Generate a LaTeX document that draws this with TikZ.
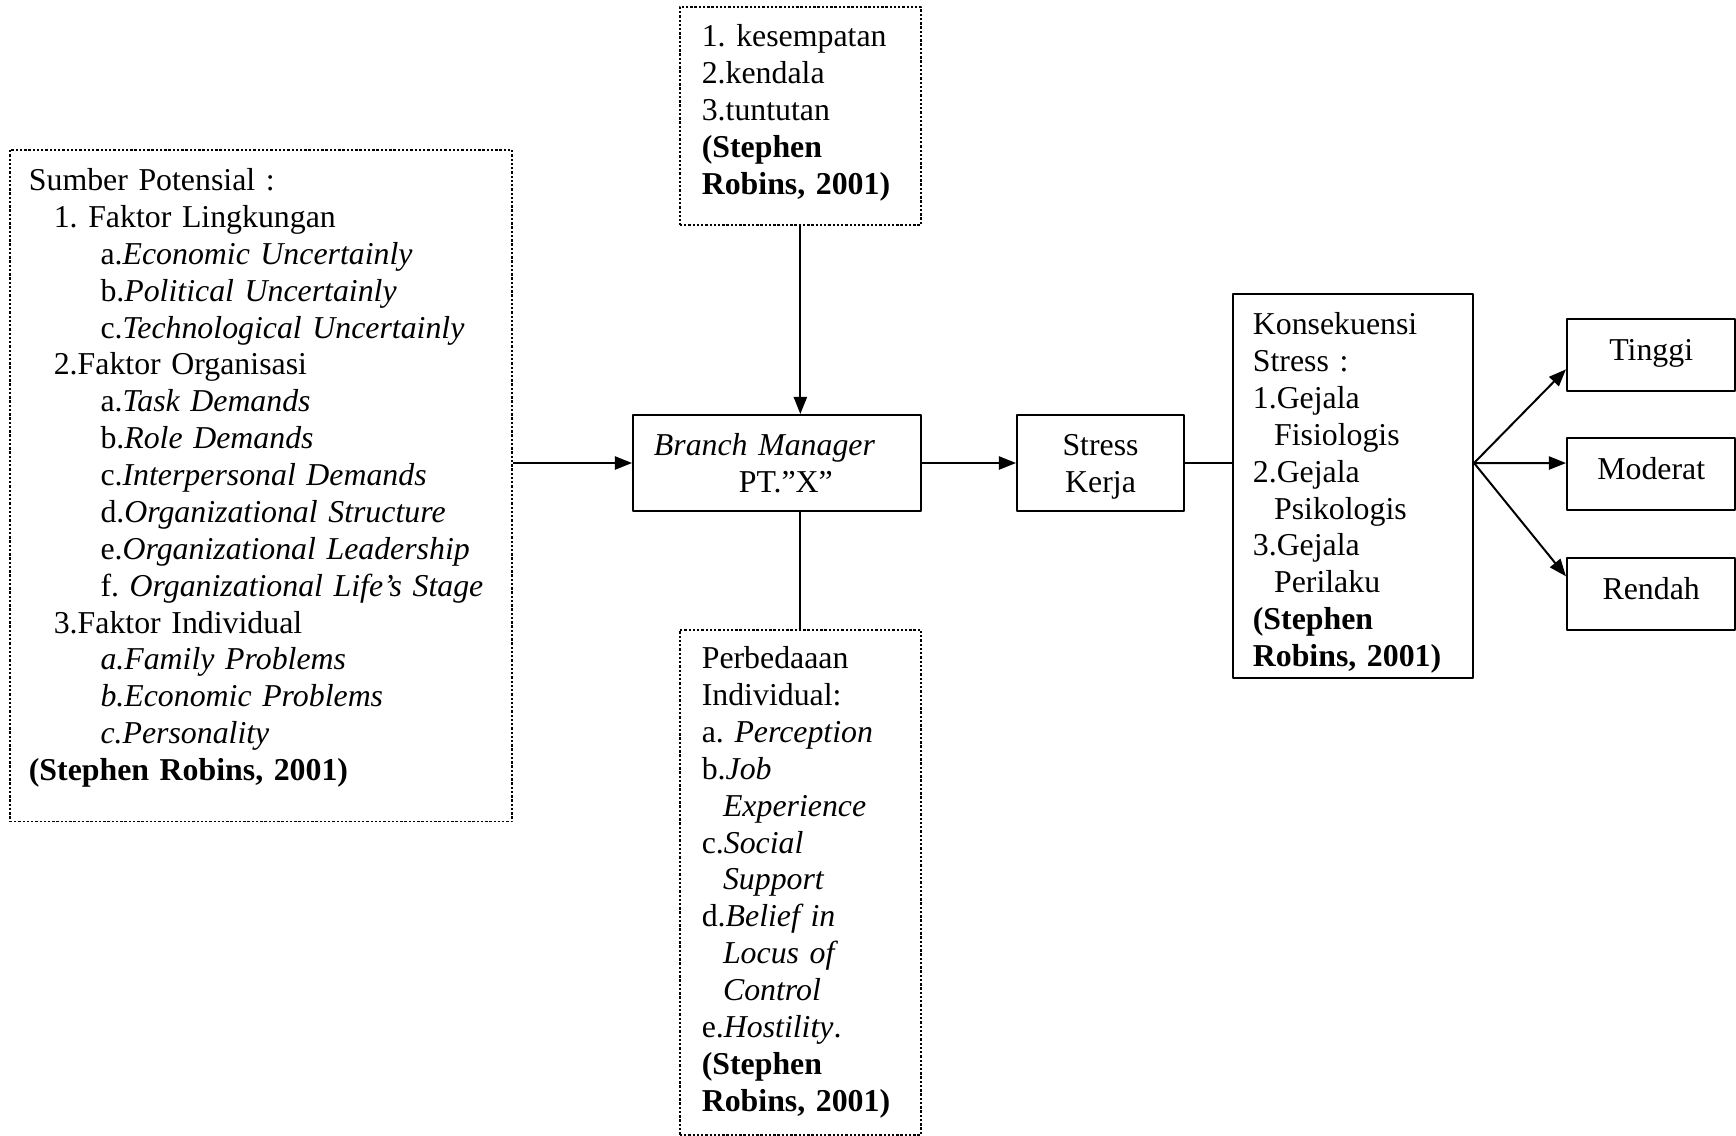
\documentclass[tikz,border=0pt]{standalone}
\usepackage{fontspec}
\setmainfont{Liberation Serif}
\usetikzlibrary{arrows.meta,calc}
\frenchspacing

\begin{document}
	\begin{tikzpicture}[x=0.377pt,y=-0.377pt,font=\fontsize{12}{13.9}\selectfont, line join=round, >={Triangle[length=6.5pt,width=5pt]},
		kotak/.style={draw,line width=0.75pt,anchor=north west,inner sep=0pt,align=left},
		titik/.style={kotak,line width=0.6pt,dash pattern=on 0.9pt off 0.7pt},
		hasil/.style={draw,line width=0.75pt,anchor=north west,inner sep=0pt,minimum width=63.5pt,minimum height=27.3pt,text height=8.5pt,text depth=4.7pt},
		panah/.style={->,line width=0.75pt},
		garis/.style={line width=0.75pt}]
		\useasboundingbox (0,0) rectangle (1736,1136);
		\node[titik,minimum width=189.3pt,minimum height=253.3pt,text width=174.9pt,text height=2.4pt] (potensi) at (9,149) {Sumber Potensial :\\
			\hspace*{9.4pt}1. Faktor Lingkungan\\
			\hspace*{27pt}a.\textit{Economic Uncertainly}\\
			\hspace*{27pt}b.\textit{Political Uncertainly}\\
			\hspace*{27pt}c.\textit{Technological Uncertainly}\\
			\hspace*{9.4pt}2.Faktor Organisasi\\
			\hspace*{27pt}a.\textit{Task Demands}\\
			\hspace*{27pt}b.\textit{Role Demands}\\
			\hspace*{27pt}c.\textit{Interpersonal Demands}\\
			\hspace*{27pt}d.\textit{Organizational Structure}\\
			\hspace*{27pt}e.\textit{Organizational Leadership}\\
			\hspace*{27pt}f. \textit{Organizational Life’s Stage}\\
			\hspace*{9.4pt}3.Faktor Individual\\
			\hspace*{27pt}\textit{a.Family Problems}\\
			\hspace*{27pt}\textit{b.Economic Problems}\\
			\hspace*{27pt}\textit{c.Personality}\\
			\textbf{(Stephen Robins, 2001)}};
		\node[titik,minimum width=90.9pt,minimum height=82.2pt,text width=74.3pt,text height=6.2pt] (peluang) at (679,6) {1. kesempatan\\2.kendala\\3.tuntutan\\\textbf{(Stephen}\\\textbf{Robins, 2001)}};
		\node[kotak,minimum width=108.6pt,minimum height=36.2pt,text width=92.8pt] (branch) at (632,414) {\textit{Branch Manager}\\\hspace*{32pt}PT.”X”};
		\node[titik,minimum width=90.9pt,minimum height=190.4pt,text width=74.3pt] (beda) at (679,629) {Perbedaaan\\Individual:\\a. \textit{Perception}\\b.\textit{Job}\\
			\hspace*{8pt}\textit{Experience}\\c.\textit{Social}\\\hspace*{8pt}\textit{Support}\\d.\textit{Belief in}\\\hspace*{8pt}\textit{Locus of}\\
			\hspace*{8pt}\textit{Control}\\e.\textit{Hostility}.\\\textbf{(Stephen}\\\textbf{Robins, 2001)}};
		\node[kotak,align=center,minimum width=63pt,minimum height=36.2pt,text width=50pt,text height=10.9pt] (stres) at (1016,414) {Stress\\Kerja};
		\node[kotak,minimum width=90.5pt,minimum height=144.8pt,text width=75.5pt,text height=13.6pt] (konsek) at (1232,293) {Konsekuensi\\Stress :\\1.Gejala\\
			\hspace*{8pt}Fisiologis\\2.Gejala\\\hspace*{8pt}Psikologis\\3.Gejala\\\hspace*{8pt}Perilaku\\\textbf{(Stephen}\\\textbf{Robins, 2001)}};
		\foreach \nm/\txt/\yy in {tinggi/Tinggi/318,moderat/Moderat/437,rendah/Rendah/557}{
			\node[hasil] (\nm) at (1566,\yy) {\txt};
		}
		\coordinate (cabang) at (konsek.east |- stres.east);
		\draw[panah] (potensi.east |- branch.west) -- (branch.west);
		\draw[panah] (peluang.south) -- (peluang.south |- branch.north);
		\draw[garis] (branch.south -| beda.north) -- (beda.north);
		\draw[panah] (branch.east) -- (stres.west);
		\draw[garis] (stres.east) -- (cabang -| konsek.west);
		\foreach \nm/\f in {tinggi/0.69,moderat/0.35,rendah/0.26}{
			\draw[panah] (cabang) -- ($(\nm.north west)!\f!(\nm.south west)$);
		}
	\end{tikzpicture}
\end{document}
